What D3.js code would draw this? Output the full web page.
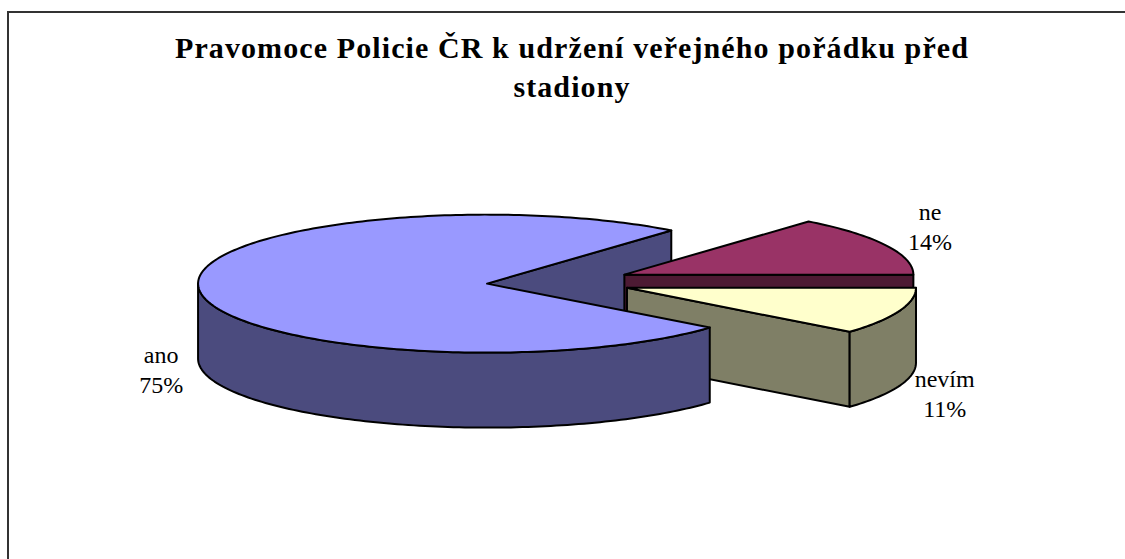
<!DOCTYPE html>
<html>
<head>
<meta charset="utf-8">
<script src="https://cdn.jsdelivr.net/npm/d3@7"></script>
<style>
  body { margin: 0; background: #fff; }
  svg { display: block; }
  text { font-family: "Liberation Serif", "Times New Roman", serif; }
</style>
</head>
<body>
<script>
// Canvas size
const canvasWidth = 1125;
const canvasHeight = 559;

// Chart data
const titleLines = ["Pravomoce Policie ČR k udržení veřejného pořádku před", "stadiony"];
const categories = ["ano", "ne", "nevím"];
const values = [75, 14, 11];
const topColors = ["#9999FF", "#993366", "#FFFFCC"];
const sideColors = ["#4B4B7E", "#4D1A33", "#7F7F66"];

// 3D pie geometry
const cx = 559;
const cy = 282;
const rx = 289;
const ry = 69;
const depth = 75;
const explode = 0.25;
const firstSliceAngle = (129.6 * Math.PI) / 180;

const svg = d3
  .select("body")
  .append("svg")
  .attr("width", canvasWidth)
  .attr("height", canvasHeight);

// chart frame (runs off the right and bottom edges)
svg
  .append("rect")
  .attr("x", 8)
  .attr("y", 12)
  .attr("width", canvasWidth + 20)
  .attr("height", canvasHeight + 20)
  .attr("fill", "none")
  .attr("stroke", "#333")
  .attr("stroke-width", 2);

// title
const title = svg
  .append("text")
  .attr("text-anchor", "middle")
  .style("font-weight", "bold")
  .style("font-size", "30px")
  .style("letter-spacing", "1.1px");

titleLines.forEach((line, i) => {
  title
    .append("tspan")
    .attr("x", 572)
    .attr("y", 58 + i * 39)
    .text(line);
});

const pie = d3
  .pie()
  .sort(null)
  .value((d) => d)
  .startAngle(firstSliceAngle)
  .endAngle(firstSliceAngle + 2 * Math.PI);

const arcs = pie(values);
const total = d3.sum(values);

// point on the ellipse, d3 angle convention (clockwise from 12 o'clock)
const pt = (c, a, dy = 0) => [c[0] + rx * Math.sin(a), c[1] - ry * Math.cos(a) + dy];

function arcPoints(c, a0, a1, dy = 0) {
  const n = Math.max(2, Math.ceil(Math.abs(a1 - a0) / 0.02));
  return d3.range(n + 1).map((i) => pt(c, a0 + ((a1 - a0) * i) / n, dy));
}

const faces = [];
const tops = [];

arcs.forEach((d, i) => {
  const mid = (d.startAngle + d.endAngle) / 2;
  const c = [cx + explode * rx * Math.sin(mid), cy - explode * ry * Math.cos(mid)];
  d.center = c;
  d.mid = mid;

  // radial cut faces, only those facing the viewer
  [
    [d.startAngle, Math.sin(d.startAngle) < 0],
    [d.endAngle, Math.sin(d.endAngle) > 0],
  ].forEach(([a, visible]) => {
    if (!visible) return;
    const p = pt(c, a);
    faces.push({
      pts: [c, p, [p[0], p[1] + depth], [c[0], c[1] + depth]],
      fill: sideColors[i],
    });
  });

  // outer curved side, front half only
  for (let k = -1; k <= 2; k++) {
    const s = Math.max(d.startAngle, Math.PI / 2 + 2 * Math.PI * k);
    const e = Math.min(d.endAngle, (3 * Math.PI) / 2 + 2 * Math.PI * k);
    if (e - s > 1e-3) {
      const upper = arcPoints(c, s, e);
      const lower = arcPoints(c, e, s, depth);
      faces.push({ pts: upper.concat(lower), fill: sideColors[i] });
    }
  }

  tops.push({ pts: [c].concat(arcPoints(c, d.startAngle, d.endAngle)), fill: topColors[i] });
});

faces.forEach((f) => (f.z = d3.mean(f.pts, (p) => p[1])));
faces.sort((a, b) => a.z - b.z);

const line = d3.line().curve(d3.curveLinearClosed);

svg
  .append("g")
  .selectAll("path")
  .data(faces.concat(tops))
  .enter()
  .append("path")
  .attr("d", (f) => line(f.pts))
  .attr("fill", (f) => f.fill)
  .attr("stroke", "#000")
  .attr("stroke-width", 2)
  .attr("stroke-linejoin", "round");

// data labels, outside the slices
const labels = svg
  .append("g")
  .style("font-size", "24px")
  .attr("text-anchor", "middle");

arcs.forEach((d, i) => {
  const p = pt(d.center, d.mid);
  const lx = d.center[0] + (p[0] - d.center[0]) * 1.15 + 5;
  let ly = d.center[1] + (p[1] - d.center[1]) * 1.15;
  // front labels sit below the side wall, back ones above the rim
  ly += Math.cos(d.mid) < 0 ? depth + 3 : -15;
  const t = labels.append("text");
  t.append("tspan").attr("x", lx).attr("y", ly - 6).text(categories[i]);
  t.append("tspan")
    .attr("x", lx)
    .attr("y", ly + 24)
    .text(Math.round((values[i] / total) * 100) + "%");
});
</script>
</body>
</html>
